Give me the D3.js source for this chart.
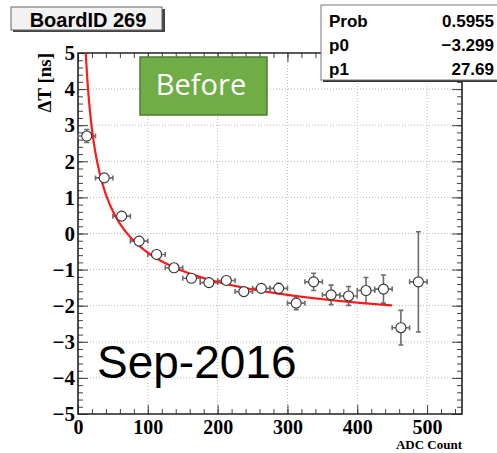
<!DOCTYPE html>
<html>
<head>
<meta charset="utf-8">
<script src="https://cdn.jsdelivr.net/npm/d3@7"></script>
<style>
  html, body { margin: 0; padding: 0; background: #fff; }
  svg { display: block; }
</style>
</head>
<body>
<svg id="chart" width="497" height="453"></svg>
<script>
// Bin centres (ADC count), measured ΔT and its uncertainty
const adcBins = [12.5, 37.5, 62.5, 87.5, 112.5, 137.5, 162.5, 187.5, 212.5, 237.5,
                 262.5, 287.5, 312.5, 337.5, 362.5, 387.5, 412.5, 437.5, 462.5, 487.5];
const deltaT  = [2.70, 1.54, 0.48, -0.21, -0.58, -0.95, -1.24, -1.36, -1.30, -1.61,
                 -1.52, -1.52, -1.93, -1.34, -1.70, -1.73, -1.58, -1.54, -2.61, -1.34];
const deltaTErr = [0.18, 0.08, 0.08, 0.08, 0.07, 0.07, 0.07, 0.07, 0.08, 0.08,
                   0.08, 0.14, 0.18, 0.24, 0.27, 0.26, 0.36, 0.39, 0.48, 1.39];
const binHalfWidth = 12.5;

// Fit result: ΔT = p0 + p1 / sqrt(ADC)
const fitNames  = ["Prob", "p0", "p1"];
const fitLabels = ["0.5955", "\u22123.299", "27.69"];
const p0 = -3.299, p1 = 27.69;
const fitRange = [10, 450];

const xTicks = [0, 100, 200, 300, 400, 500];
const yTicks = [-5, -4, -3, -2, -1, 0, 1, 2, 3, 4, 5];

const svg = d3.select("#chart");
const L = 78, R = 462, T = 53, B = 414;

const x = d3.scaleLinear().domain([0, 550]).range([L, R]);
const y = d3.scaleLinear().domain([-5, 5]).range([B, T]);

// dotted grid
const grid = svg.append("g").attr("stroke", "#b8b8b8").attr("stroke-width", 1)
  .attr("stroke-dasharray", "1,2");
grid.selectAll("line.gx").data(xTicks.filter(d => d > 0)).join("line")
  .attr("x1", d => x(d)).attr("x2", d => x(d)).attr("y1", T).attr("y2", B);
grid.selectAll("line.gy").data(yTicks.filter(d => d > -5 && d < 5)).join("line")
  .attr("x1", L).attr("x2", R).attr("y1", d => y(d)).attr("y2", d => y(d));

// axes with inward ticks
const minorX = d3.range(0, 551, 20);
const minorY = d3.range(-5, 5.001, 0.2).map(v => Math.round(v * 10) / 10);
const serif = "'Liberation Serif', 'DejaVu Serif', serif";

function styleAxis(g) {
  g.select(".domain").remove();
  g.selectAll(".tick line").attr("stroke", "#444").attr("stroke-width", 1);
  g.selectAll(".tick text").attr("fill", "#000")
    .style("font-family", serif).style("font-weight", "bold").style("font-size", "21px");
}

const axB = svg.append("g").attr("transform", `translate(0,${B})`)
  .call(d3.axisBottom(x).tickValues(xTicks).tickSize(-9).tickPadding(6).tickFormat(d3.format("d")));
styleAxis(axB);
axB.selectAll(".tick text").style("font-size", "20px");
svg.append("g").attr("transform", `translate(0,${B})`)
  .call(d3.axisBottom(x).tickValues(minorX).tickSize(-5).tickFormat("")).call(styleAxis);
svg.append("g").attr("transform", `translate(0,${T})`)
  .call(d3.axisTop(x).tickValues(xTicks).tickSize(-9).tickFormat("")).call(styleAxis);
svg.append("g").attr("transform", `translate(0,${T})`)
  .call(d3.axisTop(x).tickValues(minorX).tickSize(-5).tickFormat("")).call(styleAxis);

const axL = svg.append("g").attr("transform", `translate(${L},0)`)
  .call(d3.axisLeft(y).tickValues(yTicks).tickSize(-10).tickPadding(3).tickFormat(d3.format("d")));
styleAxis(axL);
svg.append("g").attr("transform", `translate(${L},0)`)
  .call(d3.axisLeft(y).tickValues(minorY).tickSize(-5).tickFormat("")).call(styleAxis);
svg.append("g").attr("transform", `translate(${R},0)`)
  .call(d3.axisRight(y).tickValues(yTicks).tickSize(-10).tickFormat("")).call(styleAxis);
svg.append("g").attr("transform", `translate(${R},0)`)
  .call(d3.axisRight(y).tickValues(minorY).tickSize(-5).tickFormat("")).call(styleAxis);

// frame
svg.append("path")
  .attr("d", `M${L},${T}H${R}V${B}H${L}Z`)
  .attr("fill", "none").attr("stroke", "#222").attr("stroke-width", 1.6);

// axis titles
svg.append("text")
  .attr("transform", `translate(51,${T}) rotate(-90)`)
  .attr("text-anchor", "end")
  .style("font-family", serif).style("font-weight", "bold").style("font-size", "19px")
  .text("\u0394T [ns]");
svg.append("text")
  .attr("x", R).attr("y", 449).attr("text-anchor", "end")
  .style("font-family", serif).style("font-weight", "bold").style("font-size", "13px")
  .text("ADC Count");

// data with error bars
const pts = adcBins.map((a, i) => ({ a, v: deltaT[i], e: deltaTErr[i] }));
const r = 5, cap = 2.5;
const eb = svg.append("g").attr("stroke", "#6e6e6e").attr("stroke-width", 1.6).attr("fill", "none");
pts.forEach(p => {
  const cx = x(p.a), cy = y(p.v);
  const xl = x(p.a - binHalfWidth), xr = x(p.a + binHalfWidth);
  const yt = y(p.v + p.e), yb = y(p.v - p.e);
  let d = `M${xl},${cy}H${cx - r}M${cx + r},${cy}H${xr}`;
  d += `M${xl},${cy - cap}V${cy + cap}M${xr},${cy - cap}V${cy + cap}`;
  if (cy - yt > r) {
    d += `M${cx},${yt}V${cy - r}M${cx},${cy + r}V${yb}`;
    d += `M${cx - cap},${yt}H${cx + cap}M${cx - cap},${yb}H${cx + cap}`;
  }
  eb.append("path").attr("d", d);
});

// fit curve, clipped to the frame
svg.append("clipPath").attr("id", "frameClip")
  .append("rect").attr("x", L).attr("y", T).attr("width", R - L).attr("height", B - T);
const fitX = d3.range(fitRange[0], fitRange[1] + 0.001, 1);
const fitLine = d3.line().x(d => x(d)).y(d => y(p0 + p1 / Math.sqrt(d)));
svg.append("path").datum(fitX)
  .attr("clip-path", "url(#frameClip)")
  .attr("d", fitLine).attr("fill", "none")
  .attr("stroke", "#ff1a1a").attr("stroke-width", 2.2);

svg.append("g").selectAll("circle").data(pts).join("circle")
  .attr("cx", d => x(d.a)).attr("cy", d => y(d.v)).attr("r", r)
  .attr("fill", "#fff").attr("stroke", "#333").attr("stroke-width", 1.1);

// title box
const sans = "'Liberation Sans', Arial, sans-serif";
svg.append("rect").attr("x", 13).attr("y", 9).attr("width", 152).attr("height", 23).attr("fill", "#444");
svg.append("rect").attr("x", 11).attr("y", 7).attr("width", 151).attr("height", 23)
  .attr("fill", "#f2f2f2").attr("stroke", "#666").attr("stroke-width", 1);
svg.append("text").attr("x", 88).attr("y", 27).attr("text-anchor", "middle")
  .style("font-family", sans).style("font-weight", "bold").style("font-size", "20px")
  .text("BoardID 269");

// fit statistics box
svg.append("rect").attr("x", 323).attr("y", 7).attr("width", 180).attr("height", 75).attr("fill", "#333");
svg.append("rect").attr("x", 321).attr("y", 5).attr("width", 180).attr("height", 75)
  .attr("fill", "#fff").attr("stroke", "#777").attr("stroke-width", 1);
const statY = [27, 51, 75];
svg.append("g").selectAll("text").data(fitNames).join("text")
  .attr("x", 329).attr("y", (d, i) => statY[i])
  .style("font-family", sans).style("font-weight", "bold").style("font-size", "17px")
  .text(d => d);
svg.append("g").selectAll("text").data(fitLabels).join("text")
  .attr("x", 494).attr("y", (d, i) => statY[i]).attr("text-anchor", "end")
  .style("font-family", sans).style("font-weight", "bold").style("font-size", "17px")
  .text(d => d);

// annotation: "Before" badge
svg.append("rect").attr("x", 140).attr("y", 57).attr("width", 127).attr("height", 58)
  .attr("fill", "#70ad47").attr("stroke", "#507e32").attr("stroke-width", 1.5);
svg.append("text").attr("x", 201).attr("y", 95).attr("text-anchor", "middle")
  .style("font-family", "'Open Sans', Lato, sans-serif").style("font-size", "29px")
  .attr("fill", "#fff").text("Before");

// annotation: date
svg.append("text").attr("x", 97).attr("y", 378)
  .style("font-family", sans).style("font-size", "46px").attr("fill", "#000")
  .text("Sep-2016");
</script>
</body>
</html>
